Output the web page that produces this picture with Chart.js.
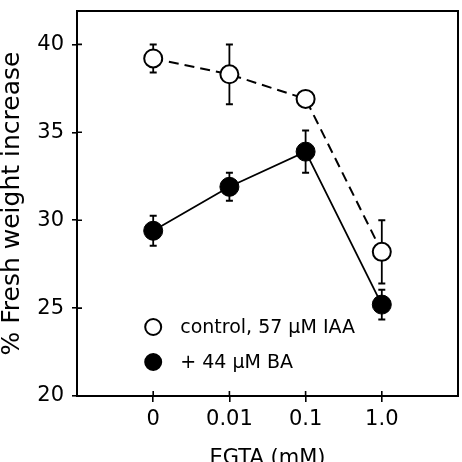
<!DOCTYPE html>
<html><head><meta charset="utf-8">
<script src="https://cdn.jsdelivr.net/npm/chart.js@4/dist/chart.umd.min.js"></script>
<style>html,body{margin:0;padding:0;background:#fff;overflow:hidden}#wrap{width:462px;height:462px;overflow:hidden}</style>
</head><body><div id="wrap"><canvas id="c" width="469" height="462"></canvas></div>
<script>
const categories = ['0', '0.01', '0.1', '1.0'];
const controlValues = [39.2, 38.3, 36.9, 28.2];
const controlErrors = [0.8, 1.7, 0.3, 1.8];
const baValues = [29.4, 31.9, 33.9, 25.2];
const baErrors = [0.85, 0.8, 1.2, 0.85];
const yTicks = [20, 25, 30, 35, 40];
const legendLabels = ['control, 57 \u03BCM IAA', '+ 44 \u03BCM BA'];
const FONT = '"DejaVu Sans", sans-serif';

const errorBars = {
  id: 'errorBars',
  beforeDatasetsDraw(chart) {
    const ctx = chart.ctx, ys = chart.scales.y, xs = chart.scales.x;
    const sets = [[controlValues, controlErrors], [baValues, baErrors]];
    ctx.save();
    ctx.strokeStyle = '#000';
    sets.forEach(([vals, errs]) => {
      vals.forEach((v, i) => {
        const x = xs.getPixelForValue(i);
        const yT = ys.getPixelForValue(v + errs[i]);
        const yB = ys.getPixelForValue(v - errs[i]);
        ctx.lineWidth = 1.8;
        ctx.beginPath(); ctx.moveTo(x, yT); ctx.lineTo(x, yB); ctx.stroke();
        ctx.lineWidth = 2;
        ctx.beginPath();
        ctx.moveTo(x - 3.5, yT); ctx.lineTo(x + 3.5, yT);
        ctx.moveTo(x - 3.5, yB); ctx.lineTo(x + 3.5, yB);
        ctx.stroke();
      });
    });
    ctx.restore();
  }
};

const frameAndLegend = {
  id: 'frameAndLegend',
  afterDraw(chart) {
    const ctx = chart.ctx, a = chart.chartArea, xs = chart.scales.x, ys = chart.scales.y;
    ctx.save();
    ctx.strokeStyle = '#000';
    ctx.lineWidth = 2;
    ctx.strokeRect(a.left, a.top, a.right - a.left, a.bottom - a.top);
    ctx.lineWidth = 1.6;
    ctx.beginPath();
    yTicks.forEach(v => { const y = ys.getPixelForValue(v); ctx.moveTo(a.left, y); ctx.lineTo(a.left + 5, y); });
    categories.forEach((c, i) => { const x = xs.getPixelForValue(i); ctx.moveTo(x, a.bottom); ctx.lineTo(x, a.bottom - 5); });
    ctx.stroke();
    const lx = xs.getPixelForValue(0);
    const rows = [a.bottom - 69, a.bottom - 34];
    ctx.font = '19px ' + FONT;
    ctx.textBaseline = 'middle';
    rows.forEach((y, i) => {
      ctx.beginPath();
      ctx.arc(lx, y, 8, 0, Math.PI * 2);
      ctx.fillStyle = i === 0 ? '#fff' : '#000';
      ctx.fill();
      ctx.lineWidth = 2;
      ctx.stroke();
      ctx.fillStyle = '#000';
      ctx.fillText(legendLabels[i], lx + 27, y + 1);
    });
    ctx.restore();
  }
};

new Chart(document.getElementById('c'), {
  type: 'line',
  data: {
    datasets: [
      {
        label: legendLabels[0],
        data: controlValues.map((v, i) => ({ x: i, y: v })),
        borderColor: '#000', borderWidth: 2, borderDash: [10, 6],
        pointRadius: 9, pointBorderWidth: 2, pointBackgroundColor: '#fff', pointBorderColor: '#000',
        tension: 0, fill: false
      },
      {
        label: legendLabels[1],
        data: baValues.map((v, i) => ({ x: i, y: v })),
        borderColor: '#000', borderWidth: 1.8,
        pointRadius: 9.5, pointBorderWidth: 1, pointBackgroundColor: '#000', pointBorderColor: '#000',
        tension: 0, fill: false
      }
    ]
  },
  options: {
    responsive: false, animation: false, devicePixelRatio: 1,
    layout: { padding: { left: 0, top: 7, right: 0, bottom: 0 } },
    plugins: { legend: { display: false }, tooltip: { enabled: false } },
    scales: {
      x: {
        type: 'linear', min: -1, max: 4,
        afterBuildTicks: s => { s.ticks = categories.map((c, i) => ({ value: i })); },
        afterFit: s => { s.height = 66; s.paddingLeft = 0; s.paddingRight = 0; },
        ticks: { callback: v => categories[v] ?? '', color: '#000', font: { family: FONT, size: 21 }, padding: 5, maxRotation: 0, autoSkip: false },
        grid: { drawOnChartArea: false, drawTicks: true, tickLength: 6, color: '#000', lineWidth: 1.6 },
        border: { display: true, color: '#000', width: 2 },
        title: { display: true, text: 'EGTA (mM)', color: '#000', font: { family: FONT, size: 21, lineHeight: 0.3 }, padding: 0 }
      },
      y: {
        type: 'linear', min: 20, max: 41.9,
        afterBuildTicks: s => { s.ticks = yTicks.map(v => ({ value: v })); },
        afterFit: s => { s.width = 77; s.paddingTop = 0; s.paddingBottom = 0; },
        ticks: { color: '#000', font: { family: FONT, size: 21 }, padding: 8 },
        grid: { drawOnChartArea: false, drawTicks: true, tickLength: 5, color: '#000', lineWidth: 1.6 },
        border: { display: true, color: '#000', width: 2 },
        title: { display: true, text: '% Fresh weight increase', color: '#000', font: { family: FONT, size: 25, lineHeight: 1.0 }, padding: 0 }
      }
    }
  },
  plugins: [errorBars, frameAndLegend]
});
</script></body></html>
